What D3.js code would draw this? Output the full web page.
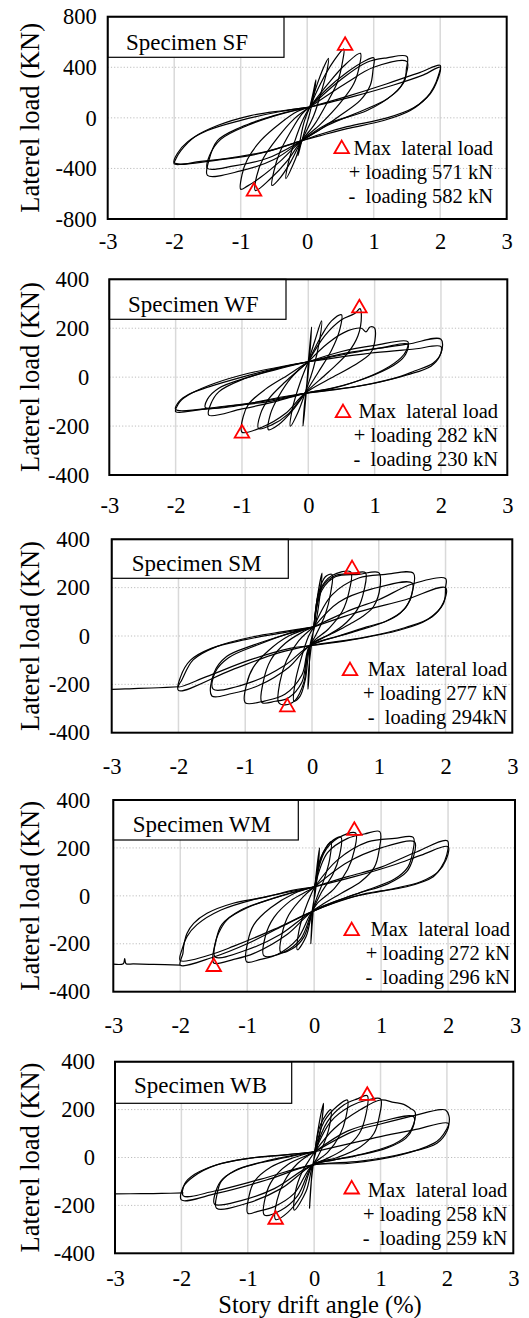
<!DOCTYPE html>
<html>
<head>
<meta charset="utf-8">
<script src="https://cdn.jsdelivr.net/npm/d3@7"></script>
<style>
  body { margin: 0; background: #fff; }
  svg text { font-family: "Liberation Serif", "Times New Roman", serif; fill: #000; }
</style>
</head>
<body>
<div id="chart"></div>
<script>
// ---- data: drift (%) vs lateral load (kN) ----
const xTicks = [-3, -2, -1, 0, 1, 2, 3];
const yTicksSF = [-800, -400, 0, 400, 800];
const yTicks = [-400, -200, 0, 200, 400];
const specimens = ['Specimen SF', 'Specimen WF', 'Specimen SM', 'Specimen WM', 'Specimen WB'];

const sfLoops = [
  [[0.04,85],[0.09,200],[0.13,300],[0.11,210],[0.04,40],[-0.03,-90],[-0.09,-200],[-0.14,-300],[-0.12,-220],[-0.05,-40],[0.04,85]],
  [[0.04,85],[0.14,250],[0.24,390],[0.32,470],[0.3,380],[0.22,220],[0.1,20],[-0.08,-180],[-0.18,-330],[-0.32,-480],[-0.29,-370],[-0.19,-190],[-0.06,-10],[0.04,85]],
  [[0.04,85],[0.2,270],[0.4,450],[0.55,545],[0.53,440],[0.46,290],[0.3,120],[0.1,-60],[-0.08,-180],[-0.25,-350],[-0.4,-470],[-0.53,-535],[-0.5,-420],[-0.41,-270],[-0.25,-110],[-0.08,30],[0.04,85]],
  [[0.04,85],[0.3,260],[0.55,410],[0.8,510],[0.78,400],[0.7,270],[0.5,120],[0.2,-50],[-0.08,-180],[-0.3,-340],[-0.55,-480],[-0.78,-575],[-0.76,-460],[-0.66,-320],[-0.45,-160],[-0.2,-10],[0.04,85]],
  [[0.04,85],[0.3,230],[0.6,360],[0.85,445],[1.0,475],[0.99,380],[0.95,260],[0.8,140],[0.5,20],[0.2,-90],[-0.08,-180],[-0.4,-340],[-0.7,-470],[-0.9,-540],[-1.0,-565],[-0.98,-450],[-0.9,-330],[-0.7,-180],[-0.4,-40],[-0.15,50],[0.04,85]],
  [[0.04,85],[0.5,300],[0.9,440],[1.2,475],[1.5,485],[1.49,380],[1.47,300],[1.3,190],[0.9,58],[0.3,-48],[-0.08,-180],[-0.5,-330],[-1.0,-420],[-1.5,-455],[-1.48,-340],[-1.35,-180],[-1.0,-74],[-0.5,18],[-0.1,70],[0.04,85]],
  [[0.04,85],[0.6,280],[1.0,400],[1.5,445],[1.48,330],[1.4,240],[1.2,150],[0.8,50],[0.3,-60],[-0.08,-180],[-0.6,-320],[-1.1,-380],[-1.5,-400],[-1.47,-300],[-1.3,-170],[-0.9,-60],[-0.4,30],[0.04,85]],
  [[0.04,85],[0.6,170],[1.2,270],[1.7,360],[2.0,415],[1.97,330],[1.9,240],[1.8,163],[1.55,58],[1.15,-21],[0.6,-85],[0.2,-140],[-0.08,-180],[-0.6,-265],[-1.1,-312],[-1.6,-345],[-2.0,-365],[-1.97,-320],[-1.9,-259],[-1.7,-153],[-1.35,-61],[-0.85,18],[-0.35,58],[0.04,85]],
  [[0.04,85],[0.7,170],[1.3,260],[1.75,340],[2.0,400],[1.96,300],[1.85,190],[1.6,80],[1.2,0],[0.6,-70],[0.2,-130],[-0.08,-180],[-0.7,-280],[-1.3,-330],[-2.0,-355],[-1.95,-280],[-1.8,-190],[-1.5,-100],[-1.0,-20],[-0.4,50],[0.04,85]]
];
const sfTail = [];

const wfLoops = [
  [[0,63],[0.03,150],[0.05,205],[0.03,120],[0,20],[-0.03,-60],[-0.06,-150],[-0.08,-200],[-0.06,-120],[-0.02,-20],[0,63]],
  [[0,63],[0.1,150],[0.2,230],[0.17,150],[0.08,40],[-0.05,-66],[-0.15,-140],[-0.27,-200],[-0.24,-130],[-0.12,-20],[0,63]],
  [[0,63],[0.2,170],[0.35,230],[0.5,255],[0.47,190],[0.35,110],[0.15,20],[-0.05,-66],[-0.25,-140],[-0.45,-195],[-0.6,-215],[-0.57,-150],[-0.45,-80],[-0.25,0],[0,63]],
  [[0,63],[0.25,170],[0.5,235],[0.7,260],[0.78,280],[0.8,250],[0.75,170],[0.6,100],[0.3,20],[-0.05,-66],[-0.3,-150],[-0.55,-195],[-0.75,-210],[-0.72,-150],[-0.6,-90],[-0.35,-20],[0,63]],
  [[0,63],[0.3,140],[0.6,190],[0.8,200],[0.87,185],[0.93,205],[1.0,200],[0.99,130],[0.93,95],[0.7,50],[0.3,-10],[-0.05,-66],[-0.35,-150],[-0.7,-205],[-1.0,-225],[-0.98,-160],[-0.9,-110],[-0.65,-50],[-0.3,10],[0,63]],
  [[0,63],[0.5,105],[1.0,130],[1.5,145],[1.48,110],[1.4,80],[1.13,29],[0.7,-20],[0.38,-45],[-0.05,-66],[-0.5,-100],[-1.0,-130],[-1.5,-155],[-1.47,-110],[-1.35,-60],[-1.0,-10],[-0.5,30],[0,63]],
  [[0,63],[0.6,100],[1.1,120],[1.5,135],[1.47,95],[1.35,60],[1.0,10],[0.5,-35],[-0.05,-66],[-0.6,-100],[-1.1,-115],[-1.55,-125],[-1.52,-90],[-1.35,-45],[-0.9,0],[-0.4,40],[0,63]],
  [[0,63],[0.9,111],[1.5,135],[2.0,155],[2.0,98],[1.88,57],[1.6,25],[1.38,2],[0.8,-35],[0.38,-52],[-0.05,-66],[-0.38,-80],[-1.13,-120],[-1.6,-132],[-2.0,-141],[-1.96,-110],[-1.91,-93],[-1.76,-66],[-1.41,-25],[-0.9,16],[-0.4,43],[0,63]],
  [[0,63],[1.0,100],[1.6,115],[2.0,125],[1.98,85],[1.85,45],[1.5,10],[0.9,-30],[0.4,-50],[-0.05,-66],[-0.6,-95],[-1.3,-120],[-2.0,-132],[-1.95,-100],[-1.8,-70],[-1.5,-40],[-1.0,0],[-0.5,35],[0,63]]
];
const wfTail = [];

const smLoops = [
  [[0.03,38],[0.08,160],[0.15,260],[0.12,170],[0.06,60],[-0.03,-40],[-0.04,-140],[-0.06,-220],[-0.05,-140],[0,-20],[0.03,38]],
  [[0.03,38],[0.1,180],[0.2,245],[0.3,255],[0.28,180],[0.2,90],[0.05,0],[-0.03,-40],[-0.1,-180],[-0.18,-250],[-0.27,-270],[-0.25,-190],[-0.17,-100],[-0.05,0],[0.03,38]],
  [[0.03,38],[0.12,190],[0.3,250],[0.58,265],[0.56,190],[0.45,100],[0.25,30],[-0.03,-40],[-0.12,-190],[-0.25,-265],[-0.4,-285],[-0.5,-275],[-0.48,-190],[-0.38,-100],[-0.2,-20],[0.03,38]],
  [[0.03,38],[0.15,200],[0.35,250],[0.6,258],[0.8,262],[0.78,190],[0.68,110],[0.45,40],[0.15,-10],[-0.03,-40],[-0.15,-190],[-0.35,-255],[-0.55,-270],[-0.75,-275],[-0.73,-190],[-0.62,-100],[-0.4,-30],[-0.15,15],[0.03,38]],
  [[0.03,38],[0.15,190],[0.35,245],[0.7,255],[1.0,262],[1.02,204],[0.92,121],[0.75,80],[0.57,50],[0.3,10],[-0.03,-40],[-0.15,-160],[-0.4,-240],[-0.7,-268],[-1.0,-276],[-0.98,-200],[-0.88,-130],[-0.65,-60],[-0.35,0],[0.03,38]],
  [[0.03,38],[0.3,170],[0.7,240],[1.1,255],[1.52,259],[1.5,180],[1.47,149],[1.32,94],[1.1,60],[0.82,38],[0.4,0],[-0.03,-40],[-0.35,-130],[-0.8,-205],[-1.2,-238],[-1.5,-248],[-1.47,-154],[-1.28,-85],[-0.9,-40],[-0.4,5],[0.03,38]],
  [[0.03,38],[0.4,140],[0.9,195],[1.5,219],[1.48,160],[1.38,110],[1.1,60],[0.6,15],[-0.03,-40],[-0.4,-120],[-0.9,-190],[-1.48,-220],[-1.45,-150],[-1.25,-90],[-0.8,-35],[-0.3,15],[0.03,38]],
  [[0.03,38],[0.6,110],[1.0,150],[1.5,215],[2.0,238],[2.0,200],[1.97,135],[1.72,66],[1.32,25],[0.57,-17],[-0.03,-40],[-0.33,-51],[-0.93,-99],[-1.58,-168],[-2.0,-210],[-1.95,-182],[-1.78,-99],[-1.43,-44],[-0.88,-3],[-0.43,18],[0.03,38]],
  [[0.03,38],[0.7,100],[1.4,150],[2.0,200],[1.97,140],[1.8,80],[1.4,35],[0.8,-5],[-0.03,-40],[-0.5,-70],[-1.2,-140],[-2.0,-225],[-1.97,-170],[-1.82,-100],[-1.5,-50],[-1.0,-15],[-0.4,15],[0.03,38]]
];
const smTail = [[-2.0,-210],[-2.3,-214],[-2.6,-217],[-2.8,-219],[-3.0,-221]];

const wmLoops = [
  [[0.01,38],[0.05,140],[0.08,200],[0.06,120],[0.02,20],[-0.03,-66],[-0.04,-140],[-0.05,-200],[-0.03,-120],[0,-10],[0.01,38]],
  [[0.01,38],[0.1,160],[0.25,225],[0.23,150],[0.15,70],[0.05,0],[-0.03,-66],[-0.12,-170],[-0.25,-225],[-0.23,-150],[-0.14,-60],[-0.04,10],[0.01,38]],
  [[0.01,38],[0.12,170],[0.25,225],[0.4,245],[0.38,170],[0.28,90],[0.1,10],[-0.03,-66],[-0.15,-170],[-0.32,-220],[-0.5,-235],[-0.48,-160],[-0.38,-80],[-0.15,0],[0.01,38]],
  [[0.01,38],[0.15,180],[0.35,240],[0.62,262],[0.6,190],[0.5,110],[0.3,30],[0.05,-30],[-0.03,-66],[-0.2,-180],[-0.45,-235],[-0.75,-250],[-0.73,-170],[-0.6,-90],[-0.35,-20],[-0.1,20],[0.01,38]],
  [[0.01,38],[0.2,180],[0.5,240],[0.75,258],[0.98,268],[0.97,190],[0.9,120],[0.7,60],[0.4,10],[0.1,-40],[-0.03,-66],[-0.25,-180],[-0.55,-245],[-0.8,-265],[-1.01,-275],[-0.99,-190],[-0.9,-120],[-0.65,-50],[-0.3,10],[0.01,38]],
  [[0.01,38],[0.35,150],[0.8,225],[1.2,240],[1.48,244],[1.47,180],[1.4,120],[1.2,70],[0.8,25],[0.35,-20],[-0.03,-66],[-0.4,-160],[-0.9,-240],[-1.2,-265],[-1.5,-280],[-1.48,-200],[-1.43,-157],[-1.3,-100],[-1.0,-50],[-0.5,0],[0.01,38]],
  [[0.01,38],[0.5,140],[1.0,200],[1.5,225],[1.48,160],[1.38,100],[1.1,50],[0.6,5],[-0.03,-66],[-0.5,-160],[-1.0,-225],[-1.48,-255],[-1.46,-180],[-1.38,-120],[-1.1,-60],[-0.6,-10],[0.01,38]],
  [[0.01,38],[0.5,80],[1.0,120],[1.5,180],[1.99,230],[1.98,170],[1.9,120],[1.78,80],[1.38,38],[0.78,10],[0.29,-31],[-0.03,-66],[-0.5,-130],[-1.0,-200],[-1.5,-255],[-2.0,-289],[-1.96,-240],[-1.95,-212],[-1.9,-157],[-1.8,-115],[-1.6,-73],[-1.21,-31],[-0.71,-4],[-0.31,24],[0.01,38]],
  [[0.01,38],[0.6,80],[1.2,130],[1.6,170],[2.0,205],[1.97,150],[1.85,100],[1.6,60],[1.1,25],[0.5,-10],[-0.03,-66],[-0.6,-140],[-1.2,-210],[-1.6,-250],[-2.0,-270],[-1.97,-220],[-1.9,-170],[-1.75,-120],[-1.4,-60],[-0.9,-15],[-0.4,15],[0.01,38]]
];
const wmTail = [[-2.0,-289],[-2.4,-286],[-2.7,-284],[-2.81,-283],[-2.83,-262],[-2.85,-283],[-3.0,-285]];

const wbLoops = [
  [[0.01,24],[0.08,150],[0.14,226],[0.11,140],[0.05,50],[-0.02,-31],[-0.05,-130],[-0.07,-212],[-0.05,-120],[-0.01,-20],[0.01,24]],
  [[0.01,24],[0.1,140],[0.25,200],[0.23,130],[0.15,60],[0.05,0],[-0.02,-31],[-0.12,-140],[-0.3,-220],[-0.28,-140],[-0.18,-60],[-0.05,0],[0.01,24]],
  [[0.01,24],[0.15,150],[0.35,215],[0.5,240],[0.48,170],[0.38,90],[0.2,20],[-0.02,-31],[-0.2,-160],[-0.4,-230],[-0.58,-259],[-0.56,-180],[-0.45,-100],[-0.25,-25],[0.01,24]],
  [[0.01,24],[0.2,150],[0.45,220],[0.65,245],[0.8,258],[0.78,180],[0.68,100],[0.45,35],[0.15,-10],[-0.02,-31],[-0.25,-160],[-0.5,-220],[-0.75,-240],[-0.73,-160],[-0.62,-90],[-0.4,-30],[-0.1,10],[0.01,24]],
  [[0.01,24],[0.25,150],[0.55,215],[0.8,240],[1.0,245],[0.98,170],[0.9,100],[0.7,45],[0.35,0],[-0.02,-31],[-0.3,-150],[-0.6,-205],[-0.85,-225],[-1.0,-233],[-0.98,-160],[-0.9,-100],[-0.65,-40],[-0.3,0],[0.01,24]],
  [[0.01,24],[0.3,120],[0.7,200],[1.0,240],[1.2,230],[1.35,222],[1.45,205],[1.52,190],[1.5,140],[1.42,100],[1.2,55],[0.8,20],[0.3,-10],[-0.02,-31],[-0.5,-130],[-1.0,-190],[-1.47,-212],[-1.46,-150],[-1.4,-100],[-1.2,-55],[-0.8,-20],[-0.3,10],[0.01,24]],
  [[0.01,24],[0.5,110],[1.0,150],[1.5,170],[1.48,120],[1.38,80],[1.1,40],[0.6,5],[-0.02,-31],[-0.6,-130],[-1.1,-180],[-1.5,-195],[-1.48,-140],[-1.38,-90],[-1.1,-45],[-0.6,-10],[0.01,24]],
  [[0.01,24],[0.6,110],[1.0,140],[1.5,175],[1.9,200],[1.98,198],[2.03,175],[2.03,140],[2.0,120],[1.9,80],[1.8,59],[1.29,10],[0.54,-24],[-0.02,-31],[-0.72,-94],[-1.47,-150],[-2.0,-177],[-1.97,-122],[-1.82,-80],[-1.47,-31],[-0.97,-3],[-0.47,10],[0.01,24]],
  [[0.01,24],[1.0,87],[1.5,115],[2.02,143],[2.0,110],[1.85,60],[1.4,20],[0.7,-15],[-0.02,-31],[-0.8,-90],[-1.5,-140],[-1.97,-160],[-1.95,-110],[-1.8,-70],[-1.4,-25],[-0.9,0],[-0.4,12],[0.01,24]]
];
const wbTail = [[-1.97,-148],[-2.3,-150],[-2.6,-151],[-3.0,-152]];

// max lateral load points (drift %, kN)
const sfPeaks = [[0.57, 571], [-0.8, -582]];
const wfPeaks = [[0.77, 282], [-1.0, -230]];
const smPeaks = [[0.6, 277], [-0.37, -294]];
const wmPeaks = [[0.6, 272], [-1.5, -296]];
const wbPeaks = [[0.8, 258], [-0.58, -259]];

const sfLegend = ['Max  lateral load', '+ loading 571 kN', '-  loading 582 kN'];
const wfLegend = ['Max  lateral load', '+ loading 282 kN', '-  loading 230 kN'];
const smLegend = ['Max  lateral load', '+ loading 277 kN', '-  loading 294kN'];
const wmLegend = ['Max  lateral load', '+ loading 272 kN', '-  loading 296 kN'];
const wbLegend = ['Max  lateral load', '+ loading 258 kN', '-  loading 259 kN'];

// ---- layout (pixels) ----
const W = 529, H = 1318;
const FONT = '"Liberation Serif", "Times New Roman", serif';
const layout = [
  {top: 16.7, bottom: 219, left: 107.7, right: 506.7, yPad: 11, xPad: 14.3, boxRight: 284, boxBottom: 57.3, nameX: 126, nameY: 50, triX: 341.7, triY: 149, legRight: 493, legY: 155},
  {top: 279.3, bottom: 475, left: 109.3, right: 507.3, yPad: 20, xPad: 21.6, boxRight: 286, boxBottom: 319.3, nameX: 128, nameY: 312, triX: 343, triY: 413, legRight: 498, legY: 418.3},
  {top: 539.3, bottom: 732.7, left: 111.7, right: 512.3, yPad: 21.7, xPad: 25.6, boxRight: 288.3, boxBottom: 578.3, nameX: 131.7, nameY: 570.7, triX: 350, triY: 671, legRight: 507.3, legY: 676},
  {top: 800, bottom: 991.7, left: 113.3, right: 515, yPad: 23, xPad: 25, boxRight: 298.3, boxBottom: 840, nameX: 132.7, nameY: 831.7, triX: 351.7, triY: 931, legRight: 510, legY: 936},
  {top: 1061.7, bottom: 1253.3, left: 115, right: 513.3, yPad: 20, xPad: 16.5, boxRight: 291.7, boxBottom: 1103.3, nameX: 134, nameY: 1093.3, triX: 351.7, triY: 1189.3, legRight: 507.3, legY: 1196.7}
];

const panels = [
  {ticks: yTicksSF, loops: sfLoops, tail: sfTail, peaks: sfPeaks, legend: sfLegend},
  {ticks: yTicks, loops: wfLoops, tail: wfTail, peaks: wfPeaks, legend: wfLegend},
  {ticks: yTicks, loops: smLoops, tail: smTail, peaks: smPeaks, legend: smLegend},
  {ticks: yTicks, loops: wmLoops, tail: wmTail, peaks: wmPeaks, legend: wmLegend},
  {ticks: yTicks, loops: wbLoops, tail: wbTail, peaks: wbPeaks, legend: wbLegend}
];

const svg = d3.select('#chart').append('svg')
  .attr('width', W)
  .attr('height', H);

const triangle = d3.symbol().type(d3.symbolTriangle).size(92);

function drawPanel(p, L, name) {
  const x = d3.scaleLinear().domain([-3, 3]).range([L.left, L.right]);
  const y = d3.scaleLinear().domain(d3.extent(p.ticks)).range([L.bottom, L.top]);
  const g = svg.append('g');

  // vertical grid (solid light grey), horizontal grid (dotted)
  g.selectAll('line.vgrid').data(xTicks.slice(1, -1))
    .join('line')
    .attr('x1', d => x(d)).attr('x2', d => x(d))
    .attr('y1', L.top).attr('y2', L.bottom)
    .attr('stroke', '#d9d9d9').attr('stroke-width', 1.5);
  g.selectAll('line.hgrid').data(p.ticks.slice(1, -1))
    .join('line')
    .attr('x1', L.left).attr('x2', L.right)
    .attr('y1', d => y(d)).attr('y2', d => y(d))
    .attr('stroke', '#bdbdbd').attr('stroke-width', 1)
    .attr('stroke-dasharray', '1.2,2');

  // specimen name box
  g.append('rect')
    .attr('x', L.left).attr('y', L.top)
    .attr('width', L.boxRight - L.left).attr('height', L.boxBottom - L.top)
    .attr('fill', '#fff').attr('stroke', '#000').attr('stroke-width', 1.2);
  g.append('text')
    .attr('x', L.nameX).attr('y', L.nameY)
    .style('font-size', '23px')
    .text(name);

  // hysteresis loops
  const line = d3.line()
    .x(d => x(d[0])).y(d => y(d[1]))
    .curve(d3.curveCatmullRom.alpha(0.5));
  g.selectAll('path.loop').data(p.loops.concat(p.tail.length ? [p.tail] : []))
    .join('path')
    .attr('d', line)
    .attr('fill', 'none')
    .attr('stroke', '#000')
    .attr('stroke-width', 1.2)
    .attr('stroke-linejoin', 'round');

  // max load markers
  g.selectAll('path.peak').data(p.peaks)
    .join('path')
    .attr('d', triangle)
    .attr('transform', d => `translate(${x(d[0])},${y(d[1])})`)
    .attr('fill', 'none').attr('stroke', '#ff0000').attr('stroke-width', 1.8);

  // frame
  g.append('rect')
    .attr('x', L.left).attr('y', L.top)
    .attr('width', L.right - L.left).attr('height', L.bottom - L.top)
    .attr('fill', 'none').attr('stroke', '#000').attr('stroke-width', 2);

  // axes
  const xAxis = g.append('g')
    .attr('transform', `translate(0,${L.bottom})`)
    .call(d3.axisBottom(x).tickValues(xTicks).tickSize(0).tickPadding(L.xPad).tickFormat(d => String(d)));
  const yAxis = g.append('g')
    .attr('transform', `translate(${L.left},0)`)
    .call(d3.axisLeft(y).tickValues(p.ticks).tickSize(0).tickPadding(L.yPad).tickFormat(d => String(d)));
  [xAxis, yAxis].forEach(a => {
    a.attr('font-family', FONT).attr('font-size', 22.5);
    a.select('.domain').remove();
    a.selectAll('text')
      .attr('fill', '#000')
      .style('font-size', '22.5px')
      .style('font-family', FONT);
  });

  // y title
  g.append('text')
    .attr('transform', `translate(39,${(L.top + L.bottom) / 2}) rotate(-90)`)
    .attr('text-anchor', 'middle')
    .style('font-size', '26.5px')
    .text('Laterel load (KN)');

  // legend
  g.append('path')
    .attr('d', triangle)
    .attr('transform', `translate(${L.triX},${L.triY})`)
    .attr('fill', 'none').attr('stroke', '#ff0000').attr('stroke-width', 1.8);
  g.selectAll('text.leg').data(p.legend)
    .join('text')
    .attr('x', L.legRight)
    .attr('y', (d, i) => L.legY + i * 24)
    .attr('text-anchor', 'end')
    .style('font-size', '20.5px')
    .style('white-space', 'pre')
    .text(d => d);
}

panels.forEach((p, i) => drawPanel(p, layout[i], specimens[i]));

svg.append('text')
  .attr('x', 320).attr('y', 1312.5)
  .attr('text-anchor', 'middle')
  .style('font-size', '24.5px')
  .text('Story drift angle (%)');
</script>
</body>
</html>
